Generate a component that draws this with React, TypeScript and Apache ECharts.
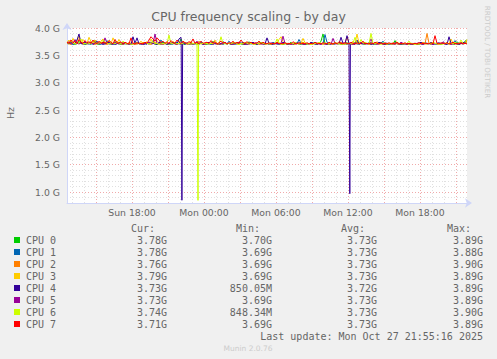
import React, { useEffect, useRef } from "react";
import * as echarts from "echarts";

// ---- data -------------------------------------------------------------
const cpuNames = ["CPU 0", "CPU 1", "CPU 2", "CPU 3", "CPU 4", "CPU 5", "CPU 6", "CPU 7"];
const cpuColors = ["#00CC00", "#0066B3", "#FF8000", "#FFCC00", "#330099", "#990099", "#CCFF00", "#FF0000"];

// time axis (hours since Sun 00:00); 400 px = 400 RRD steps of 5 min
const startHour = 151 / 12; // Sun 12:35
const endHour = 551 / 12; // Mon 21:55

const xLabelHours = [18, 24, 30, 36, 42];
const xLabels = ["Sun 18:00", "Mon 00:00", "Mon 06:00", "Mon 12:00", "Mon 18:00"];
const xGridHours = [13, 14, 15, 16, 17, 18, 19, 20, 21, 22, 23, 24, 25, 26, 27, 28, 29, 30, 31, 32, 33, 34, 35, 36, 37, 38, 39, 40, 41, 42, 43, 44, 45];
const yLabelValues = [1.0, 1.5, 2.0, 2.5, 3.0, 3.5, 4.0];

// GHz, one sample every 10 min (rows of 10 = 100 min)
const cpu0 = [
  3.72, 3.71, 3.74, 3.71, 3.70, 3.72, 3.76, 3.71, 3.72, 3.70,
  3.71, 3.73, 3.71, 3.72, 3.78, 3.71, 3.70, 3.72, 3.71, 3.74,
  3.71, 3.72, 3.70, 3.71, 3.75, 3.72, 3.71, 3.70, 3.73, 3.71,
  3.72, 3.70, 3.71, 3.72, 3.71, 3.74, 3.71, 3.72, 3.70, 3.71,
  3.73, 3.71, 3.72, 3.77, 3.71, 3.70, 3.72, 3.71, 3.74, 3.72,
  3.71, 3.70, 3.72, 3.71, 3.73, 3.71, 3.72, 3.80, 3.71, 3.70,
  3.72, 3.71, 3.74, 3.71, 3.72, 3.70, 3.71, 3.73, 3.72, 3.71,
  3.70, 3.72, 3.71, 3.76, 3.71, 3.72, 3.70, 3.71, 3.72, 3.74,
  3.71, 3.72, 3.70, 3.71, 3.73, 3.71, 3.72, 3.71, 3.70, 3.72,
  3.71, 3.75, 3.71, 3.72, 3.70, 3.71, 3.72, 3.74, 3.71, 3.70,
  3.72, 3.71, 3.70, 3.72, 3.71, 3.73, 3.71, 3.72, 3.70, 3.71,
  3.72, 3.71, 3.74, 3.70, 3.71, 3.72, 3.71, 3.70, 3.73, 3.71,
  3.70, 3.72, 3.71, 3.73, 3.71, 3.72, 3.71, 3.76, 3.89, 3.72,
  3.71, 3.70, 3.72, 3.71, 3.74, 3.71, 3.72, 3.70, 3.71, 3.72,
  3.73, 3.71, 3.72, 3.70, 3.71, 3.75, 3.71, 3.72, 3.71, 3.70,
  3.72, 3.71, 3.73, 3.71, 3.70, 3.72, 3.71, 3.74, 3.72, 3.71,
  3.70, 3.71, 3.72, 3.71, 3.77, 3.71, 3.72, 3.70, 3.71, 3.72,
  3.71, 3.70, 3.72, 3.71, 3.72, 3.71, 3.70, 3.72, 3.71, 3.73,
  3.71, 3.72, 3.70, 3.74, 3.71, 3.72, 3.71, 3.70, 3.72, 3.71,
  3.73, 3.71, 3.72, 3.71, 3.70, 3.75, 3.71, 3.72, 3.71, 3.76,
  3.78,
];
const cpu1 = [
  3.71, 3.73, 3.71, 3.70, 3.72, 3.71, 3.75, 3.72, 3.71, 3.70,
  3.72, 3.71, 3.70, 3.74, 3.71, 3.72, 3.71, 3.70, 3.73, 3.71,
  3.77, 3.71, 3.72, 3.70, 3.71, 3.72, 3.74, 3.71, 3.70, 3.72,
  3.71, 3.72, 3.70, 3.71, 3.73, 3.71, 3.72, 3.70, 3.71, 3.72,
  3.70, 3.74, 3.71, 3.72, 3.71, 3.70, 3.72, 3.78, 3.71, 3.72,
  3.71, 3.72, 3.70, 3.71, 3.72, 3.74, 3.71, 3.70, 3.72, 3.71,
  3.73, 3.71, 3.72, 3.70, 3.71, 3.72, 3.71, 3.75, 3.70, 3.71,
  3.72, 3.71, 3.70, 3.72, 3.73, 3.71, 3.72, 3.71, 3.70, 3.72,
  3.71, 3.76, 3.72, 3.71, 3.70, 3.72, 3.71, 3.72, 3.74, 3.71,
  3.70, 3.72, 3.71, 3.72, 3.71, 3.70, 3.73, 3.71, 3.72, 3.71,
  3.72, 3.70, 3.71, 3.74, 3.72, 3.71, 3.70, 3.72, 3.71, 3.72,
  3.71, 3.72, 3.70, 3.71, 3.72, 3.71, 3.79, 3.72, 3.71, 3.70,
  3.72, 3.71, 3.73, 3.72, 3.71, 3.70, 3.72, 3.71, 3.72, 3.88,
  3.74, 3.71, 3.72, 3.70, 3.71, 3.72, 3.71, 3.73, 3.72, 3.71,
  3.70, 3.72, 3.71, 3.72, 3.74, 3.71, 3.70, 3.72, 3.71, 3.72,
  3.71, 3.73, 3.72, 3.71, 3.70, 3.72, 3.71, 3.72, 3.76, 3.71,
  3.72, 3.71, 3.70, 3.72, 3.71, 3.73, 3.71, 3.72, 3.70, 3.71,
  3.71, 3.72, 3.71, 3.70, 3.72, 3.71, 3.72, 3.71, 3.70, 3.72,
  3.72, 3.71, 3.74, 3.72, 3.71, 3.70, 3.72, 3.71, 3.73, 3.71,
  3.70, 3.72, 3.71, 3.72, 3.77, 3.71, 3.70, 3.72, 3.71, 3.73,
  3.78,
];
const cpu2 = [
  3.72, 3.71, 3.70, 3.73, 3.71, 3.72, 3.71, 3.74, 3.70, 3.72,
  3.71, 3.72, 3.75, 3.71, 3.70, 3.72, 3.71, 3.72, 3.73, 3.71,
  3.70, 3.72, 3.71, 3.72, 3.71, 3.76, 3.72, 3.71, 3.70, 3.72,
  3.71, 3.73, 3.72, 3.71, 3.70, 3.71, 3.72, 3.71, 3.74, 3.72,
  3.72, 3.71, 3.70, 3.72, 3.75, 3.71, 3.72, 3.71, 3.70, 3.72,
  3.71, 3.72, 3.71, 3.73, 3.71, 3.70, 3.72, 3.71, 3.72, 3.74,
  3.70, 3.71, 3.72, 3.71, 3.72, 3.71, 3.76, 3.72, 3.71, 3.70,
  3.72, 3.71, 3.73, 3.71, 3.72, 3.70, 3.71, 3.72, 3.71, 3.74,
  3.71, 3.72, 3.71, 3.70, 3.72, 3.73, 3.71, 3.72, 3.71, 3.70,
  3.72, 3.71, 3.72, 3.74, 3.71, 3.72, 3.70, 3.71, 3.72, 3.71,
  3.71, 3.72, 3.70, 3.71, 3.72, 3.71, 3.73, 3.70, 3.71, 3.72,
  3.70, 3.71, 3.72, 3.71, 3.70, 3.72, 3.71, 3.72, 3.74, 3.71,
  3.72, 3.71, 3.70, 3.72, 3.71, 3.73, 3.71, 3.72, 3.70, 3.71,
  3.71, 3.72, 3.71, 3.70, 3.72, 3.71, 3.72, 3.74, 3.71, 3.72,
  3.84, 3.72, 3.71, 3.70, 3.72, 3.71, 3.73, 3.71, 3.72, 3.71,
  3.72, 3.70, 3.71, 3.72, 3.71, 3.75, 3.71, 3.72, 3.70, 3.71,
  3.71, 3.72, 3.71, 3.73, 3.72, 3.71, 3.70, 3.72, 3.71, 3.72,
  3.70, 3.71, 3.72, 3.71, 3.72, 3.70, 3.71, 3.72, 3.74, 3.71,
  3.90, 3.72, 3.71, 3.70, 3.72, 3.71, 3.72, 3.71, 3.73, 3.71,
  3.72, 3.71, 3.70, 3.72, 3.74, 3.71, 3.72, 3.71, 3.72, 3.73,
  3.76,
];
const cpu3 = [
  3.74, 3.78, 3.72, 3.81, 3.73, 3.76, 3.85, 3.72, 3.79, 3.74,
  3.72, 3.83, 3.75, 3.72, 3.78, 3.73, 3.71, 3.76, 3.80, 3.72,
  3.73, 3.77, 3.71, 3.82, 3.74, 3.72, 3.79, 3.71, 3.75, 3.72,
  3.71, 3.73, 3.72, 3.70, 3.74, 3.71, 3.72, 3.76, 3.71, 3.72,
  3.75, 3.71, 3.80, 3.72, 3.71, 3.77, 3.72, 3.74, 3.71, 3.72,
  3.73, 3.71, 3.72, 3.76, 3.71, 3.70, 3.72, 3.71, 3.74, 3.72,
  3.71, 3.72, 3.75, 3.71, 3.72, 3.70, 3.73, 3.71, 3.72, 3.71,
  3.74, 3.71, 3.72, 3.71, 3.78, 3.72, 3.71, 3.70, 3.72, 3.73,
  3.71, 3.72, 3.71, 3.74, 3.72, 3.71, 3.70, 3.72, 3.71, 3.72,
  3.73, 3.71, 3.72, 3.71, 3.70, 3.72, 3.76, 3.71, 3.72, 3.71,
  3.72, 3.71, 3.70, 3.72, 3.71, 3.72, 3.79, 3.84, 3.75, 3.71,
  3.72, 3.71, 3.70, 3.72, 3.71, 3.72, 3.71, 3.72, 3.81, 3.73,
  3.71, 3.72, 3.70, 3.71, 3.72, 3.71, 3.73, 3.72, 3.71, 3.72,
  3.71, 3.70, 3.72, 3.71, 3.74, 3.72, 3.71, 3.72, 3.71, 3.70,
  3.72, 3.71, 3.72, 3.76, 3.71, 3.89, 3.72, 3.71, 3.73, 3.71,
  3.72, 3.71, 3.70, 3.72, 3.71, 3.72, 3.74, 3.71, 3.72, 3.70,
  3.71, 3.72, 3.71, 3.70, 3.72, 3.75, 3.71, 3.72, 3.71, 3.72,
  3.70, 3.71, 3.72, 3.71, 3.70, 3.72, 3.71, 3.73, 3.71, 3.72,
  3.71, 3.72, 3.71, 3.74, 3.72, 3.71, 3.70, 3.72, 3.71, 3.72,
  3.72, 3.71, 3.80, 3.72, 3.71, 3.70, 3.72, 3.74, 3.71, 3.72,
  3.79,
];
const cpu4 = [
  3.73, 3.72, 3.75, 3.71, 3.72, 3.78, 3.89, 3.72, 3.71, 3.74,
  3.72, 3.71, 3.73, 3.70, 3.72, 3.76, 3.71, 3.72, 3.70, 3.71,
  3.72, 3.74, 3.71, 3.72, 3.70, 3.71, 3.73, 3.72, 3.71, 3.72,
  3.71, 3.72, 3.70, 3.84, 3.72, 3.82, 3.71, 3.72, 3.70, 3.71,
  3.72, 3.71, 3.73, 3.72, 3.71, 3.70, 3.74, 3.72, 3.71, 3.72,
  3.70, 3.72, 3.71, 3.74, 3.72, 3.71, 3.80, 3.83, 3.72, 3.71,
  3.72, 3.71, 3.70, 3.72, 3.71, 3.73, 3.71, 3.72, 3.70, 3.71,
  3.72, 3.74, 3.71, 3.70, 3.72, 3.71, 3.72, 3.71, 3.75, 3.72,
  3.71, 3.72, 3.70, 3.71, 3.72, 3.71, 3.73, 3.72, 3.71, 3.70,
  3.72, 3.71, 3.72, 3.74, 3.71, 3.70, 3.72, 3.71, 3.72, 3.71,
  3.82, 3.72, 3.71, 3.70, 3.72, 3.71, 3.72, 3.71, 3.74, 3.72,
  3.71, 3.70, 3.72, 3.71, 3.72, 3.73, 3.71, 3.72, 3.70, 3.71,
  3.72, 3.71, 3.74, 3.72, 3.71, 3.70, 3.72, 3.71, 3.72, 3.71,
  3.70, 3.72, 3.71, 3.72, 3.71, 3.72, 3.71, 3.83, 3.72, 3.71,
  3.86, 3.72, 3.71, 3.72, 3.70, 3.78, 3.71, 3.72, 3.71, 3.73,
  3.71, 3.72, 3.70, 3.71, 3.72, 3.71, 3.74, 3.72, 3.71, 3.70,
  3.72, 3.71, 3.72, 3.71, 3.73, 3.72, 3.71, 3.70, 3.72, 3.71,
  3.71, 3.72, 3.70, 3.71, 3.72, 3.71, 3.72, 3.74, 3.71, 3.72,
  3.72, 3.71, 3.72, 3.70, 3.71, 3.72, 3.73, 3.71, 3.72, 3.71,
  3.70, 3.84, 3.72, 3.71, 3.72, 3.71, 3.70, 3.72, 3.74, 3.72,
  3.73,
];
const cpu5 = [
  3.72, 3.75, 3.71, 3.72, 3.79, 3.72, 3.71, 3.73, 3.72, 3.76,
  3.71, 3.72, 3.74, 3.71, 3.72, 3.71, 3.73, 3.72, 3.71, 3.82,
  3.72, 3.71, 3.72, 3.70, 3.74, 3.72, 3.71, 3.72, 3.73, 3.71,
  3.72, 3.70, 3.71, 3.72, 3.71, 3.73, 3.72, 3.71, 3.70, 3.72,
  3.71, 3.74, 3.72, 3.71, 3.89, 3.72, 3.71, 3.70, 3.72, 3.71,
  3.72, 3.71, 3.73, 3.72, 3.71, 3.70, 3.72, 3.71, 3.74, 3.72,
  3.71, 3.72, 3.70, 3.71, 3.72, 3.76, 3.71, 3.72, 3.71, 3.70,
  3.72, 3.71, 3.72, 3.74, 3.71, 3.72, 3.70, 3.71, 3.72, 3.73,
  3.71, 3.72, 3.71, 3.70, 3.72, 3.71, 3.75, 3.72, 3.71, 3.72,
  3.70, 3.71, 3.72, 3.71, 3.72, 3.73, 3.71, 3.72, 3.70, 3.71,
  3.72, 3.71, 3.73, 3.72, 3.71, 3.72, 3.71, 3.72, 3.85, 3.72,
  3.71, 3.72, 3.70, 3.71, 3.72, 3.71, 3.73, 3.72, 3.71, 3.70,
  3.72, 3.71, 3.72, 3.71, 3.74, 3.72, 3.71, 3.70, 3.72, 3.71,
  3.72, 3.71, 3.70, 3.81, 3.72, 3.71, 3.72, 3.71, 3.73, 3.72,
  3.71, 3.72, 3.71, 3.70, 3.72, 3.71, 3.72, 3.74, 3.71, 3.72,
  3.71, 3.72, 3.80, 3.71, 3.72, 3.70, 3.71, 3.72, 3.71, 3.73,
  3.72, 3.71, 3.72, 3.71, 3.70, 3.72, 3.71, 3.74, 3.72, 3.71,
  3.70, 3.72, 3.71, 3.72, 3.71, 3.72, 3.73, 3.71, 3.70, 3.72,
  3.71, 3.72, 3.71, 3.70, 3.72, 3.71, 3.72, 3.71, 3.75, 3.72,
  3.71, 3.72, 3.70, 3.71, 3.72, 3.71, 3.73, 3.72, 3.71, 3.72,
  3.73,
];
const cpu6 = [
  3.73, 3.72, 3.77, 3.72, 3.71, 3.74, 3.72, 3.80, 3.72, 3.71,
  3.73, 3.72, 3.71, 3.76, 3.72, 3.71, 3.73, 3.72, 3.78, 3.74,
  3.72, 3.71, 3.73, 3.72, 3.71, 3.74, 3.72, 3.71, 3.76, 3.72,
  3.71, 3.72, 3.70, 3.71, 3.72, 3.73, 3.71, 3.72, 3.71, 3.74,
  3.72, 3.71, 3.72, 3.75, 3.71, 3.72, 3.70, 3.71, 3.72, 3.71,
  3.72, 3.87, 3.71, 3.72, 3.73, 3.71, 3.72, 3.71, 3.72, 3.74,
  3.71, 3.72, 3.70, 3.72, 3.71, 3.72, 3.73, 3.71, 3.72, 3.71,
  3.72, 3.71, 3.72, 3.71, 3.74, 3.72, 3.71, 3.84, 3.72, 3.71,
  3.71, 3.72, 3.71, 3.73, 3.72, 3.71, 3.70, 3.72, 3.71, 3.74,
  3.72, 3.71, 3.72, 3.71, 3.70, 3.72, 3.71, 3.73, 3.72, 3.71,
  3.71, 3.72, 3.71, 3.72, 3.71, 3.80, 3.72, 3.71, 3.70, 3.72,
  3.72, 3.71, 3.72, 3.71, 3.74, 3.72, 3.71, 3.72, 3.71, 3.73,
  3.71, 3.72, 3.70, 3.71, 3.72, 3.71, 3.74, 3.72, 3.71, 3.72,
  3.72, 3.71, 3.72, 3.71, 3.73, 3.72, 3.71, 3.70, 3.72, 3.71,
  3.71, 3.72, 3.71, 3.72, 3.83, 3.72, 3.71, 3.79, 3.72, 3.74,
  3.72, 3.71, 3.90, 3.72, 3.71, 3.72, 3.71, 3.70, 3.72, 3.73,
  3.71, 3.72, 3.71, 3.72, 3.71, 3.73, 3.72, 3.71, 3.72, 3.71,
  3.72, 3.76, 3.71, 3.72, 3.70, 3.71, 3.72, 3.71, 3.72, 3.71,
  3.71, 3.72, 3.71, 3.73, 3.72, 3.71, 3.72, 3.70, 3.71, 3.72,
  3.72, 3.71, 3.72, 3.71, 3.74, 3.72, 3.71, 3.78, 3.72, 3.71,
  3.74,
];
const cpu7 = [
  3.74, 3.72, 3.78, 3.73, 3.76, 3.72, 3.79, 3.74, 3.72, 3.77,
  3.73, 3.75, 3.72, 3.78, 3.73, 3.71, 3.76, 3.72, 3.74, 3.73,
  3.72, 3.77, 3.74, 3.71, 3.79, 3.73, 3.72, 3.75, 3.71, 3.74,
  3.72, 3.71, 3.82, 3.72, 3.71, 3.73, 3.71, 3.72, 3.71, 3.74,
  3.72, 3.78, 3.84, 3.80, 3.76, 3.82, 3.78, 3.73, 3.76, 3.72,
  3.75, 3.72, 3.77, 3.73, 3.72, 3.78, 3.74, 3.72, 3.76, 3.73,
  3.72, 3.75, 3.73, 3.80, 3.72, 3.74, 3.71, 3.76, 3.72, 3.73,
  3.74, 3.72, 3.77, 3.72, 3.75, 3.71, 3.73, 3.76, 3.72, 3.74,
  3.71, 3.73, 3.72, 3.76, 3.71, 3.74, 3.72, 3.78, 3.73, 3.72,
  3.75, 3.72, 3.74, 3.71, 3.73, 3.72, 3.76, 3.71, 3.74, 3.72,
  3.71, 3.73, 3.71, 3.72, 3.71, 3.74, 3.71, 3.72, 3.71, 3.73,
  3.71, 3.72, 3.71, 3.75, 3.72, 3.71, 3.73, 3.71, 3.72, 3.71,
  3.73, 3.71, 3.72, 3.71, 3.74, 3.71, 3.72, 3.71, 3.73, 3.72,
  3.71, 3.74, 3.72, 3.71, 3.73, 3.71, 3.75, 3.72, 3.71, 3.73,
  3.72, 3.71, 3.74, 3.72, 3.71, 3.73, 3.71, 3.72, 3.76, 3.71,
  3.72, 3.71, 3.73, 3.71, 3.74, 3.72, 3.71, 3.73, 3.71, 3.72,
  3.71, 3.73, 3.71, 3.72, 3.71, 3.74, 3.71, 3.72, 3.71, 3.73,
  3.71, 3.72, 3.71, 3.71, 3.72, 3.71, 3.73, 3.71, 3.72, 3.71,
  3.72, 3.71, 3.73, 3.71, 3.86, 3.72, 3.71, 3.73, 3.72, 3.71,
  3.73, 3.71, 3.72, 3.74, 3.71, 3.72, 3.71, 3.73, 3.71, 3.72,
  3.71,
];

// short dips [hour, GHz]
const cpu4Dips = [
  [22.10, 3.72], [22.16, 0.85005], [22.22, 3.72],
  [36.10, 3.72], [36.15, 0.97], [36.20, 3.72],
];
const cpu6Dips = [[23.45, 3.72], [23.50, 0.84834], [23.55, 3.72]];

const seriesValues = [cpu0, cpu1, cpu2, cpu3, cpu4, cpu5, cpu6, cpu7];
const seriesDips = [[], [], [], [], cpu4Dips, [], cpu6Dips, []];

// legend table
const legendHeaders = ["Cur:", "Min:", "Avg:", "Max:"];
const curVals = ["3.78G", "3.78G", "3.76G", "3.79G", "3.73G", "3.73G", "3.74G", "3.71G"];
const minVals = ["3.70G", "3.69G", "3.69G", "3.69G", "850.05M", "3.69G", "848.34M", "3.69G"];
const avgVals = ["3.73G", "3.73G", "3.73G", "3.73G", "3.72G", "3.73G", "3.73G", "3.73G"];
const maxVals = ["3.89G", "3.88G", "3.90G", "3.89G", "3.89G", "3.89G", "3.90G", "3.89G"];
const lastUpdate = "Last update: Mon Oct 27 21:55:16 2025";

// ---- component ---------------------------------------------------------
const FONT = "DejaVu Sans";
const MONO = "DejaVu Sans Mono";
const TXT = "#666666";

function buildSeries(vals: number[], dips: number[][]) {
  const step = (endHour - startHour) / (vals.length - 1);
  const pts = vals.map((v, i) => [startHour + i * step, v]);
  return pts.concat(dips).sort((a, b) => a[0] - b[0]);
}

export default function App() {
  const ref = useRef<HTMLDivElement>(null);

  useEffect(() => {
    if (!ref.current) return;
    const chart = echarts.init(ref.current, undefined, { renderer: "svg" });

    const graphics: any[] = [
      {
        type: "text", left: "center", top: 10,
        style: { text: "CPU frequency scaling - by day", fill: TXT, fontSize: 12.5, fontFamily: FONT },
      },
      {
        type: "text", x: 10, y: 113, rotation: Math.PI / 2,
        style: { text: "Hz", fill: TXT, fontSize: 9.5, fontFamily: FONT, align: "center", verticalAlign: "middle" },
      },
      {
        type: "text", x: 487, y: 52, rotation: -Math.PI / 2,
        style: { text: "RRDTOOL / TOBI OETIKER", fill: "#CCCCCC", fontSize: 7.2, fontFamily: FONT, align: "center", verticalAlign: "middle" },
      },
    ];

    const colRight = [167, 272, 377, 483];
    const headerY = 228;
    legendHeaders.forEach((h, j) => {
      graphics.push({
        type: "text", x: colRight[j] - 12, y: headerY,
        style: { text: h, fill: TXT, fontSize: 10, fontFamily: MONO, align: "right", verticalAlign: "middle" },
      });
    });
    const cols = [curVals, minVals, avgVals, maxVals];
    cpuNames.forEach((name, i) => {
      const y = 240 + i * 12;
      graphics.push({ type: "rect", shape: { x: 14, y: y - 3, width: 6, height: 6 }, style: { fill: cpuColors[i] } });
      graphics.push({
        type: "text", x: 26, y,
        style: { text: name, fill: TXT, fontSize: 10, fontFamily: MONO, align: "left", verticalAlign: "middle" },
      });
      cols.forEach((c, j) => {
        graphics.push({
          type: "text", x: colRight[j], y,
          style: { text: c[i], fill: TXT, fontSize: 10, fontFamily: MONO, align: "right", verticalAlign: "middle" },
        });
      });
    });
    graphics.push({
      type: "text", x: 483, y: 336,
      style: { text: lastUpdate, fill: TXT, fontSize: 10, fontFamily: MONO, align: "right", verticalAlign: "middle" },
    });
    graphics.push({
      type: "text", x: 248, y: 348,
      style: { text: "Munin 2.0.76", fill: "#CCCCCC", fontSize: 7.5, fontFamily: FONT, align: "center", verticalAlign: "middle" },
    });

    const minor = "#E0E0E0";
    const major = "#F0AAAA";

    chart.setOption({
      animation: false,
      backgroundColor: "#F0F0F0",
      grid: { left: 67, top: 28, width: 400, height: 175, show: true, backgroundColor: "#FFFFFF", borderWidth: 0 },
      xAxis: {
        type: "value",
        min: startHour,
        max: endHour,
        axisLine: {
          show: true, onZero: false,
          lineStyle: { color: "#CFD6F8", width: 1 },
          symbol: ["none", "arrow"], symbolSize: [7, 7], symbolOffset: [0, 5],
        },
        axisTick: { show: false, customValues: xGridHours },
        axisLabel: {
          customValues: xLabelHours,
          formatter: (v: number) => xLabels[xLabelHours.indexOf(Math.round(v))] ?? "",
          color: TXT, fontSize: 9.3, fontFamily: FONT, margin: 5,
        },
        splitLine: {
          show: true,
          lineStyle: { color: [minor, minor, major], type: [1, 2], width: 1 },
        },
      },
      yAxis: {
        type: "value",
        min: 0.8,
        max: 4.0,
        interval: 0.1,
        axisLine: {
          show: true, onZero: false,
          lineStyle: { color: "#CFD6F8", width: 1 },
          symbol: ["none", "arrow"], symbolSize: [7, 7], symbolOffset: [0, 5],
        },
        axisTick: { show: false },
        axisLabel: {
          customValues: yLabelValues,
          formatter: (v: number) => v.toFixed(1) + " G",
          color: TXT, fontSize: 9.3, fontFamily: FONT, margin: 7,
        },
        splitLine: {
          show: true,
          lineStyle: { color: [minor, minor, major, minor, minor], type: [1, 2], width: 1 },
        },
      },
      graphic: graphics,
      series: seriesValues.map((vals, i) => ({
        type: "line",
        name: cpuNames[i],
        data: buildSeries(vals, seriesDips[i]),
        showSymbol: false,
        symbol: "none",
        lineStyle: { color: cpuColors[i], width: 1 },
        itemStyle: { color: cpuColors[i] },
        silent: true,
      })),
    });

    return () => chart.dispose();
  }, []);

  return <div ref={ref} style={{ position: "fixed", left: 0, top: 0, width: 497, height: 359 }} />;
}
